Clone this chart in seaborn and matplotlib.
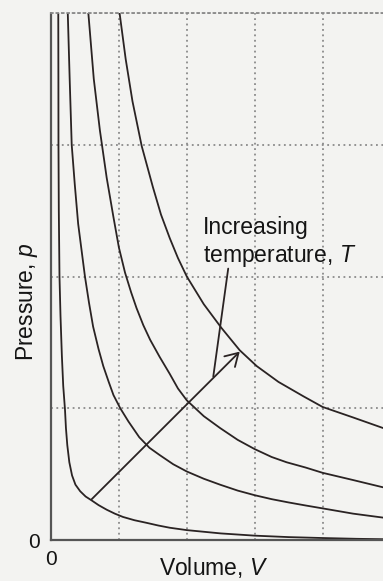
import matplotlib
matplotlib.use('Agg')
import matplotlib.pyplot as plt
import seaborn as sns
import pandas as pd

# isotherms (volume V, pressure p), lowest temperature first
v_t1 = [0.107, 0.109, 0.11, 0.115, 0.125, 0.14, 0.16, 0.18, 0.206, 0.22, 0.24, 0.27, 0.31,
        0.36, 0.43, 0.51, 0.60, 0.70, 0.82, 0.94, 1.06, 1.23, 1.41, 1.58, 1.75, 2.0, 2.5,
        3.0, 3.5, 4.0, 4.5, 4.89]
p_t1 = [4.0, 3.5, 3.0, 2.5, 2.0, 1.7, 1.4, 1.17, 0.99, 0.85, 0.72, 0.59, 0.49,
        0.42, 0.37, 0.33, 0.30, 0.265, 0.23, 0.20, 0.175, 0.15, 0.13, 0.11, 0.093, 0.075, 0.05,
        0.033, 0.022, 0.015, 0.009, 0.006]

v_t2 = [0.247, 0.275, 0.305, 0.35, 0.40, 0.45, 0.50, 0.56, 0.62, 0.70, 0.77, 0.85, 0.92,
        1.02, 1.14, 1.3, 1.45, 1.6, 1.8, 2.0, 2.25, 2.49, 2.75, 3.0, 3.25, 3.5, 3.75, 4.0,
        4.45, 4.89]
p_t2 = [4.0, 3.5, 3.0, 2.7, 2.4, 2.2, 2.0, 1.8, 1.62, 1.45, 1.32, 1.2, 1.10,
        1.0, 0.90, 0.78, 0.70, 0.645, 0.575, 0.52, 0.465, 0.42, 0.375, 0.34, 0.31, 0.285, 0.262, 0.24,
        0.2, 0.17]

v_t3 = [0.55, 0.63, 0.72, 0.82, 0.92, 1.0, 1.09, 1.18, 1.26, 1.36, 1.46, 1.6, 1.75, 1.87,
        2.0, 2.25, 2.49, 2.75, 3.0, 3.25, 3.47, 3.75, 4.0, 4.45, 4.89]
p_t3 = [4.0, 3.5, 3.11, 2.75, 2.45, 2.22, 2.03, 1.88, 1.76, 1.63, 1.52, 1.39, 1.26, 1.15,
        1.06, 0.94, 0.85, 0.76, 0.69, 0.63, 0.59, 0.55, 0.51, 0.455, 0.40]

v_t4 = [1.01, 1.1, 1.2, 1.336, 1.5, 1.62, 1.75, 1.87, 2.0, 2.25, 2.51, 2.78, 3.03, 3.35,
        3.72, 4.0, 4.45, 4.89]
p_t4 = [4.0, 3.65, 3.33, 2.99, 2.68, 2.47, 2.29, 2.14, 2.0, 1.79, 1.61, 1.44, 1.32, 1.2,
        1.09, 1.01, 0.93, 0.85]

curves = [(v_t1, p_t1), (v_t2, p_t2), (v_t3, p_t3), (v_t4, p_t4)]

# arrow across the isotherms and the pointer from the label
arrow_tail = (0.60, 0.31)
arrow_tip = (2.78, 1.43)
pointer = ([2.61, 2.39], [2.06, 1.24])

x_ticks = [0]
y_ticks = [0]

sns.set_style("white")
plt.rcParams['font.family'] = ['Liberation Sans', 'DejaVu Sans']
plt.rcParams['mathtext.fontset'] = 'custom'
plt.rcParams['mathtext.rm'] = 'Liberation Sans'
plt.rcParams['mathtext.it'] = 'Liberation Sans:italic'

bg = '#f3f3f1'
ink = '#2a2323'
txt = '#141414'

fig = plt.figure(figsize=(3.83, 5.81), dpi=100, facecolor=bg)
ax = fig.add_axes([51 / 383, 41 / 581, 332 / 383, 527 / 581], facecolor=bg)

for v, p in curves:
    df = pd.DataFrame({'V': v, 'p': p})
    sns.lineplot(data=df, x='V', y='p', ax=ax, color=ink, lw=1.3, sort=False)

ax.annotate('', xy=arrow_tip, xytext=arrow_tail,
            arrowprops=dict(arrowstyle='->,head_length=0.5,head_width=0.3',
                            color=ink, lw=1.3, shrinkA=0, shrinkB=0,
                            mutation_scale=18))
ax.plot(pointer[0], pointer[1], color=ink, lw=1.3)

ax.text(2.234, 2.11, 'Increasing\ntemperature, $T$', fontsize=16.5,
        color=txt, ha='left', va='baseline', linespacing=1.2)

ax.set_xlim(0, 4.89)
ax.set_ylim(0, 4)
ax.set_xticks([1, 2, 3, 4], minor=True)
ax.set_yticks([1, 2, 3, 4], minor=True)
ax.set_xticks(x_ticks)
ax.set_yticks(y_ticks)
ax.set_xticklabels([str(t) for t in x_ticks], fontsize=15, color=txt)
ax.set_yticklabels([str(t) for t in y_ticks], fontsize=15, color=txt)
ax.tick_params(which='both', length=0)
ax.tick_params(axis='x', pad=7)
ax.tick_params(axis='y', pad=8)
ax.grid(which='minor', color='#8a8a8a', linestyle=(0, (1, 2)), lw=1.3)
ax.set_xlabel('')
ax.set_ylabel('')

for side in ['left', 'bottom']:
    ax.spines[side].set_color('#555555')
    ax.spines[side].set_linestyle((0, (1, 1)))
    ax.spines[side].set_linewidth(1.6)
ax.spines['top'].set_color('#8a8a8a')
ax.spines['top'].set_linestyle((0, (1, 2)))
ax.spines['top'].set_linewidth(1.3)
ax.spines['right'].set_visible(False)

fig.text(214 / 383, 6 / 581, 'Volume, $V$', fontsize=16.5, color=txt,
         ha='center', va='baseline')
fig.text(33 / 383, 0.481, 'Pressure, $p$', fontsize=16.5, color=txt,
         rotation=90, rotation_mode='anchor', ha='center', va='baseline')

fig.savefig('out.png', dpi=100, facecolor=bg)
